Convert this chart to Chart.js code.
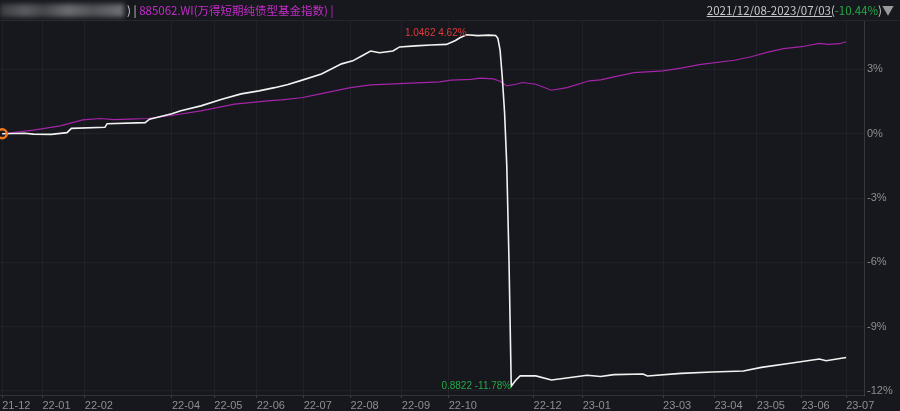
<!DOCTYPE html>
<html>
<head>
<meta charset="utf-8">
<script src="https://cdn.jsdelivr.net/npm/chart.js@4/dist/chart.umd.min.js"></script>
<style>
  html, body { margin: 0; padding: 0; background: #16181d; }
  #wrap { position: relative; width: 900px; height: 411px; overflow: hidden; }
  #head { position: absolute; left: 0; top: 0; width: 900px; height: 20px; border-bottom: 1px solid #23262c;
    font-family: "Noto Sans CJK SC", "Liberation Sans", sans-serif; font-size: 11.5px; line-height: 20px; white-space: nowrap; }
  #blur { position: absolute; left: 0; top: 4px; width: 124px; height: 13px; filter: blur(2.5px);
    background: linear-gradient(90deg, #3a3c40 0%, #5a5c60 20%, #44464a 35%, #6a6c70 55%, #505256 75%, #707276 100%); }
  #left { position: absolute; left: 127px; top: 0; color: #cfcfcf; }
  #left .m { color: #c42cc8; }
  #right { position: absolute; right: 6px; top: 0; color: #c8c8c8; }
  #right .d { text-decoration: underline; }
  #right .g { color: #23a845; }
  #right .t { color: #9a9a9a; font-size: 12px; }
  canvas { position: absolute; left: 0; top: 0; }
</style>
</head>
<body>
<div id="wrap">
  <canvas id="c" width="900" height="411"></canvas>
  <div id="head">
    <div id="blur"></div>
    <div id="left">) | <span class="m">885062.WI(万得短期纯债型基金指数) |</span></div>
    <div id="right"><span class="d">2021/12/08-2023/07/03(</span><span class="g">-10.44%</span>)<span class="t">▼</span></div>
  </div>
</div>
<script>
// trading-day index (0 = 2021-12-08) and cumulative return, %
const fundIdx = [0,10,14,22,29,31,46,47,64,66,76,80,89,98,107,115,122,128,134,143,152,157,161,165,169,175,178,185,192,199,203,205,208,213,218,221,222,223,224,225,226,227,228,230,232,239,246,252,262,268,274,287,289,304,318,332,340,353,366,369,378]
const fundPct = [0,0.02,-0.02,-0.03,0.05,0.25,0.3,0.47,0.52,0.68,0.93,1.07,1.3,1.6,1.86,2.0,2.15,2.3,2.49,2.79,3.26,3.4,3.63,3.86,3.78,3.86,4.05,4.1,4.14,4.17,4.35,4.48,4.62,4.58,4.6,4.58,4.45,3.9,2.6,1.0,-1.5,-6,-11.78,-11.5,-11.3,-11.3,-11.49,-11.41,-11.27,-11.33,-11.24,-11.21,-11.3,-11.18,-11.12,-11.07,-10.9,-10.71,-10.51,-10.59,-10.44]

const indexIdx = [0,14,26,36,44,50,57,65,75,89,104,119,125,134,143,156,165,178,196,201,210,214,220,223,226,230,233,239,246,253,263,268,274,283,296,304,313,328,335,343,350,358,366,370,375,378]
const indexPct = [0,0.17,0.37,0.65,0.71,0.66,0.68,0.71,0.84,1.07,1.38,1.53,1.58,1.68,1.87,2.15,2.28,2.34,2.42,2.5,2.54,2.59,2.56,2.45,2.23,2.31,2.39,2.31,2.03,2.15,2.47,2.51,2.65,2.85,2.93,3.06,3.24,3.43,3.58,3.81,3.97,4.06,4.22,4.17,4.2,4.29]

const monthIdx = [0,18,37,76,95,114,135,156,179,200,238,260,296,319,338,358,378]
const monthLabels = ['21-12','22-01','22-02','22-04','22-05','22-06','22-07','22-08','22-09','22-10','22-12','23-01','23-03','23-04','23-05','23-06','23-07']
const yTicks = [-12,-9,-6,-3,0,3]

const peakPos = fundPct.indexOf(Math.max(...fundPct))
const lowPos = fundPct.indexOf(Math.min(...fundPct))
const peakText = '1.0462 4.62%'
const lowText = '0.8822 -11.78%'

const toPts = (xs, ys) => xs.map((x, i) => ({ x: x, y: ys[i] }))

const marks = {
  id: 'marks',
  afterDatasetsDraw(chart) {
    const ctx = chart.ctx
    const pts = chart.getDatasetMeta(0).data
    const p = pts[peakPos], q = pts[lowPos]
    ctx.save()
    ctx.font = '10px "Liberation Sans", Arial, sans-serif'
    ctx.textAlign = 'right'
    ctx.textBaseline = 'middle'
    ctx.fillStyle = '#e03a3a'
    ctx.fillText(peakText, p.x, p.y - 1)
    ctx.fillStyle = '#26a848'
    ctx.fillText(lowText, q.x, q.y)
    ctx.restore()
  }
}

new Chart(document.getElementById('c'), {
  type: 'line',
  data: {
    datasets: [
      { data: toPts(fundIdx, fundPct), borderColor: '#f2f2f2', borderWidth: 1.6, tension: 0,
        pointRadius: c => c.dataIndex === 0 ? 4.5 : 0, pointBorderColor: '#f07a1e', pointBorderWidth: 2.5,
        pointBackgroundColor: 'rgba(0,0,0,0)' },
      { data: toPts(indexIdx, indexPct), borderColor: '#a524a8', borderWidth: 1.2, pointRadius: 0, tension: 0 }
    ]
  },
  options: {
    responsive: false,
    animation: false,
    layout: { autoPadding: false, padding: { top: 21, left: 0, right: 0, bottom: 0 } },
    plugins: { legend: { display: false }, tooltip: { enabled: false } },
    scales: {
      x: {
        type: 'linear', min: -1, max: 386,
        afterBuildTicks: s => { s.ticks = monthIdx.map(v => ({ value: v })) },
        afterFit: s => { s.height = 16 },
        ticks: { autoSkip: false, maxRotation: 0, align: 'start', padding: 1, color: '#8e8e8e',
          font: { size: 11, family: '"Liberation Sans", Arial, sans-serif' },
          callback: v => monthLabels[monthIdx.indexOf(v)] },
        grid: { color: 'rgba(255,255,255,0.045)', tickLength: 3, tickColor: 'rgba(255,255,255,0.18)' },
        border: { color: 'rgba(255,255,255,0.12)' }
      },
      y: {
        position: 'right', min: -12.19, max: 5.26,
        afterBuildTicks: s => { s.ticks = yTicks.map(v => ({ value: v })) },
        afterFit: s => { s.width = 36 },
        ticks: { padding: 3, crossAlign: 'near', color: '#8e8e8e',
          font: { size: 11, family: '"Liberation Sans", Arial, sans-serif' },
          callback: v => v + '%' },
        grid: { color: 'rgba(255,255,255,0.045)', drawTicks: false },
        border: { color: 'rgba(255,255,255,0.14)' }
      }
    }
  },
  plugins: [marks]
})
</script>
</body>
</html>
